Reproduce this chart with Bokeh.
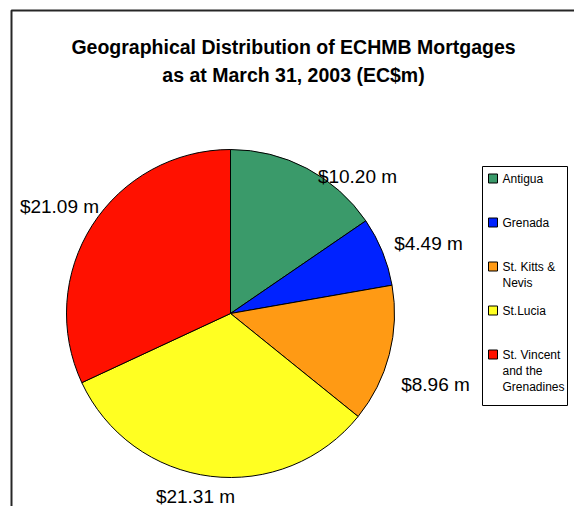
import math
from bokeh.plotting import figure
from bokeh.models import Range1d, ColumnDataSource
from bokeh.embed import file_html
from bokeh.resources import INLINE
from bokeh.core.properties import value

# ---- data ----
countries = ["Antigua", "Grenada", "St. Kitts & Nevis", "St.Lucia", "St. Vincent and the Grenadines"]
legend_labels = ["Antigua", "Grenada", "St. Kitts &\nNevis", "St.Lucia", "St. Vincent\nand the\nGrenadines"]
mortgages = [10.20, 4.49, 8.96, 21.31, 21.09]
value_labels = ["$10.20 m", "$4.49 m", "$8.96 m", "$21.31 m", "$21.09 m"]
colors = ["#3A9A6A", "#0022FF", "#FF9A14", "#FFFF22", "#FF1100"]
title_lines = ["Geographical Distribution of ECHMB Mortgages", "as at March 31, 2003 (EC$m)"]

# ---- layout (pixel-like data space) ----
W, H = 574, 506
FONT = "Liberation Sans"

def X(px):  # picture x -> data x
    return px

def Y(py):  # picture y -> data y
    return H - py

cx, cy, R = X(230), Y(313), 164
# label centre offsets from pie centre (pixels, +x right, +y down)
label_offsets = [(127, -137), (198, -70), (205, 71), (-35, 183), (-171, -107)]

p = figure(width=W, height=H, output_backend="svg", toolbar_location=None,
           x_range=Range1d(0, W), y_range=Range1d(0, H),
           x_axis_type=None, y_axis_type=None, min_border=0)
p.grid.visible = False
p.outline_line_color = None
p.background_fill_color = "white"
p.border_fill_color = "white"

# frame of the original chart area (cropped at right/bottom)
p.quad(left=[X(11)], right=[X(900)], top=[Y(10)], bottom=[Y(900)],
       fill_color=None, line_color="#262626", line_width=2)

# ---- pie ----
total = sum(mortgages)
starts, ends = [], []
cum = 0.0
for v in mortgages:
    a0 = math.pi / 2 - cum / total * 2 * math.pi
    cum += v
    a1 = math.pi / 2 - cum / total * 2 * math.pi
    starts.append(a0)
    ends.append(a1)

src = ColumnDataSource(dict(start=starts, end=ends, color=colors, name=countries))
p.wedge(x=cx, y=cy, radius=R, start_angle="start", end_angle="end", direction="clock",
        fill_color="color", line_color="black", line_width=1, source=src)

# value labels
lx = [cx + dx for dx, dy in label_offsets]
ly = [cy - dy for dx, dy in label_offsets]
p.text(x=lx, y=ly, text=value_labels, text_font=value(FONT), text_font_size="19px",
       text_align="center", text_baseline="middle", text_color="black")

# ---- title ----
p.text(x=[X(293), X(293)], y=[Y(46), Y(74)], text=title_lines, text_font=value(FONT),
       text_font_size="19.5px", text_font_style="bold", text_align="center",
       text_baseline="middle", text_color="black")

# ---- legend ----
lg_left, lg_right, lg_top, lg_bottom = X(482), X(567), Y(166), Y(405)
p.quad(left=[lg_left], right=[lg_right], top=[lg_top], bottom=[lg_bottom],
       fill_color="white", line_color="black", line_width=1)

first_line_y = Y(178)
step = 44
line_h = 16
sw_x, sw_y, txt_x, txt_y, txt = [], [], [], [], []
for i, lab in enumerate(legend_labels):
    y0 = first_line_y - i * step
    sw_x.append(X(492.5))
    sw_y.append(y0)
    for j, line in enumerate(lab.split("\n")):
        txt_x.append(X(502))
        txt_y.append(y0 - j * line_h)
        txt.append(line)

p.rect(x=sw_x, y=sw_y, width=9, height=9, fill_color=colors, line_color="black", line_width=1)
p.text(x=txt_x, y=txt_y, text=txt, text_font=value(FONT), text_font_size="12px",
       text_align="left", text_baseline="middle", text_color="black")

open("out.html", "w").write(file_html(p, INLINE))
